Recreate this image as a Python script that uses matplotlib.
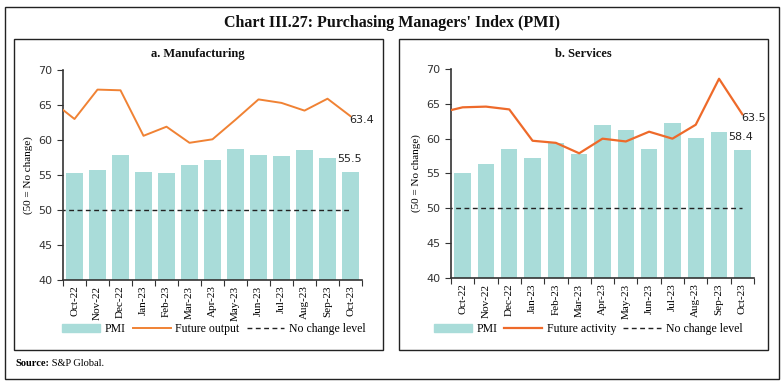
import numpy as np
import matplotlib
matplotlib.use('Agg')
import matplotlib.pyplot as plt
from matplotlib.patches import Rectangle
from matplotlib.lines import Line2D

# line series carry one extra leading month (Sep-22), it only shows as the clipped stub at the left edge
months = ['Oct-22', 'Nov-22', 'Dec-22', 'Jan-23', 'Feb-23', 'Mar-23', 'Apr-23',
          'May-23', 'Jun-23', 'Jul-23', 'Aug-23', 'Sep-23', 'Oct-23']

mfg_pmi = [55.3, 55.7, 57.8, 55.4, 55.3, 56.4, 57.2, 58.7, 57.8, 57.7, 58.6, 57.5, 55.5]
mfg_future = [65.6, 63.0, 67.2, 67.1, 60.6, 61.9, 59.6, 60.1, 62.9, 65.8, 65.3, 64.2, 65.9, 63.4]

srv_pmi = [55.1, 56.4, 58.5, 57.2, 59.4, 57.8, 62.0, 61.2, 58.5, 62.3, 60.1, 61.0, 58.4]
srv_future = [63.7, 64.5, 64.6, 64.2, 59.7, 59.4, 57.9, 60.0, 59.6, 61.0, 60.0, 62.0, 68.6, 63.5]

no_change = [50] * 14

BAR = '#a9dcd9'
SERIF = 'Liberation Serif'
W, H = 784, 384


def fx(px):
    return px / W


def fy(py):
    return 1 - py / H


fig = plt.figure(figsize=(W / 100, H / 100), dpi=100)

# frames
fig.patches.append(Rectangle((fx(5), fy(379)), fx(774), (379 - 7) / H, transform=fig.transFigure,
                             fill=False, lw=1.0, ec='#222222'))
fig.patches.append(Rectangle((fx(14), fy(350)), fx(369), (350 - 39) / H, transform=fig.transFigure,
                             fill=False, lw=1.0, ec='#222222'))
fig.patches.append(Rectangle((fx(399), fy(350)), fx(369), (350 - 39) / H, transform=fig.transFigure,
                             fill=False, lw=1.0, ec='#222222'))

fig.text(0.5, fy(23), "Chart III.27: Purchasing Managers' Index (PMI)", ha='center', va='center',
         family=SERIF, fontsize=11.5, fontweight='bold', color='#111111')
src = fig.text(fx(15), fy(363), 'Source:', family=SERIF, fontsize=7.5, fontweight='bold', va='center')
fig.add_artist(plt.Annotation(' S&P Global.', xy=(1, 0.5), xycoords=src, va='center', ha='left',
                              family=SERIF, fontsize=7.5))


def panel(rect, title, tx, pmi, future, line_col, lw, lab_fut, leg_x):
    ax = fig.add_axes(rect)
    x = np.arange(len(months))
    xl = np.arange(-1, len(months))
    ax.bar(x, pmi, width=0.7, color=BAR, zorder=1)
    ax.plot(xl, future, color=line_col, lw=lw, zorder=3)
    ax.plot(xl, no_change, color='#222222', lw=1.0, ls=(0, (3.5, 2.5)), zorder=2)
    ax.set_xlim(-0.5, len(months) - 0.5)
    ax.set_ylim(40, 70)
    ax.set_yticks(range(40, 71, 5))
    ax.set_xticks(np.arange(-0.5, len(months)))
    ax.set_xticklabels([])
    ax.set_xticks(x, minor=True)
    ax.set_xticklabels(months, minor=True, rotation=90, family=SERIF, fontsize=8)
    ax.tick_params(axis='x', which='minor', length=0, pad=4)
    ax.tick_params(axis='x', which='major', length=4, color='#333333')
    ax.tick_params(axis='y', length=4, labelsize=8, labelcolor='#333333', color='#333333')
    for s in ['top', 'right']:
        ax.spines[s].set_visible(False)
    for s in ['left', 'bottom']:
        ax.spines[s].set_color('#333333')
        ax.spines[s].set_linewidth(1.2)
    ax.set_ylabel('(50 = No change)', family=SERIF, fontsize=8, labelpad=4)
    ax.annotate(f'{future[-1]}', (x[-1], future[-1]), xytext=(-1, -3), textcoords='offset points',
                ha='left', va='center', fontsize=8, color='#222222')
    ax.annotate(f'{pmi[-1]}', (x[-1], pmi[-1]), xytext=(-1, 9), textcoords='offset points',
                ha='center', va='center', fontsize=8, color='#222222')
    fig.text(tx, fy(54), title, ha='center', va='center', family=SERIF, fontsize=9,
             fontweight='bold', color='#111111')
    handles = [Rectangle((0, 0), 1, 1, color=BAR),
               Line2D([], [], color=line_col, lw=lw),
               Line2D([], [], color='#222222', lw=1.0, ls=(0, (3.5, 2.5)))]
    fig.legend(handles, ['PMI', lab_fut, 'No change level'], loc='center', ncol=3,
               bbox_to_anchor=(leg_x, fy(329)), frameon=False, handlelength=3.2,
               handletextpad=0.4, columnspacing=0.6, prop={'family': SERIF, 'size': 8.5})
    return ax


panel([fx(63), fy(280), fx(299), 210 / H], 'a. Manufacturing', fx(198), mfg_pmi, mfg_future,
      '#f08234', 1.4, 'Future output', fx(214))
panel([fx(451), fy(278), fx(303), 209 / H], 'b. Services', fx(583), srv_pmi, srv_future,
      '#ee6a2a', 1.6, 'Future activity', fx(588))

fig.savefig('out.png', dpi=100)
